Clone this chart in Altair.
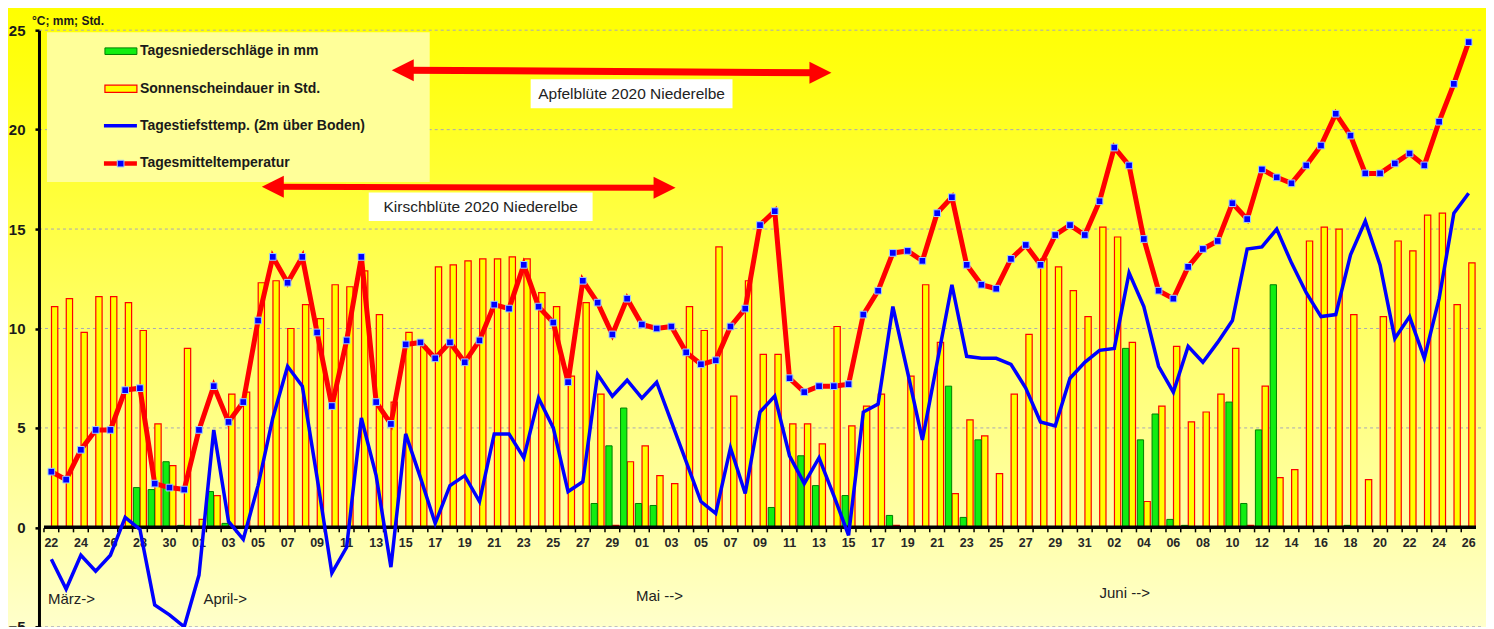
import altair as alt
import pandas as pd

# ---------------- data ----------------
day_labels = ([f"{d:02d}" for d in range(22, 32)] + [f"{d:02d}" for d in range(1, 31)]
              + [f"{d:02d}" for d in range(1, 32)] + [f"{d:02d}" for d in range(1, 27)])

tmean = [
    2.8, 2.4, 3.9, 4.9, 4.9, 6.9, 7.0, 2.2, 2.0, 1.9,
    4.9, 7.1, 5.3, 6.3, 10.4, 13.6, 12.3, 13.6, 9.8, 6.1,
    9.4, 13.6, 6.3, 5.2, 9.2, 9.3, 8.5, 9.3, 8.3, 9.4,
    11.2, 11.0, 13.2, 11.1, 10.3, 7.3, 12.4, 11.3, 9.7, 11.5,
    10.2, 10.0, 10.1, 8.8, 8.2, 8.4, 10.1, 11.0, 15.2, 15.9,
    7.5, 6.8, 7.1, 7.1, 7.2, 10.7, 11.9, 13.8, 13.9, 13.4,
    15.8, 16.6, 13.2, 12.2, 12.0, 13.5, 14.2, 13.2, 14.7, 15.2, 14.7,
    16.4, 19.1, 18.2, 14.5, 11.9, 11.5, 13.1, 14.0, 14.4, 16.3,
    15.5, 18.0, 17.6, 17.3, 18.2, 19.2, 20.8, 19.7, 17.8, 17.8,
    18.3, 18.8, 18.2, 20.4, 22.3, 24.4,
]
tmin = [
    -1.6, -3.1, -1.4, -2.2, -1.4, 0.5, -0.1, -3.9, -4.4, -5.0,
    -2.4, 4.9, 0.3, -0.6, 2.1, 5.5, 8.1, 7.1, 2.5, -2.3,
    -1.0, 5.5, 2.6, -2.0, 4.7, 2.5, 0.2, 2.1, 2.6, 1.3,
    4.7, 4.7, 3.5, 6.5, 5.0, 1.8, 2.3, 7.7, 6.6, 7.4,
    6.5, 7.3, 5.3, 3.3, 1.3, 0.7, 4.0, 1.7, 5.8, 6.6,
    3.6, 2.2, 3.5, 1.6, -0.4, 5.8, 6.2, 11.1, 7.8, 4.4,
    8.3, 12.2, 8.6, 8.5, 8.5, 8.2, 7.0, 5.3, 5.1, 7.5, 8.3,
    8.9, 9.0, 12.8, 11.1, 8.1, 6.8, 9.1, 8.3, 9.3, 10.4,
    14.0, 14.1, 15.0, 13.3, 11.8, 10.6, 10.7, 13.7, 15.4, 13.2,
    9.5, 10.6, 8.5, 11.5, 15.8, 16.8,
]
sun = [
    11.1, 11.5, 9.8, 11.6, 11.6, 11.3, 9.9, 5.2, 3.1, 9.0,
    0.4, 1.6, 6.7, 6.8, 12.3, 12.4, 10.0, 11.2, 10.5, 12.2,
    12.1, 12.9, 10.7, 6.3, 9.8, 9.1, 13.1, 13.2, 13.4, 13.5,
    13.5, 13.6, 13.5, 11.8, 11.1, 7.6, 11.3, 6.7, 0.1, 3.3,
    4.1, 2.6, 2.2, 11.1, 9.9, 14.1, 6.6, 12.4, 8.7, 8.7,
    5.2, 5.2, 4.2, 10.1, 5.1, 6.1, 6.7, 0.1, 7.6, 12.2,
    9.3, 1.7, 5.4, 4.6, 2.7, 6.7, 9.7, 13.5, 13.1, 11.9, 10.6,
    15.1, 14.6, 9.3, 1.3, 6.1, 9.1, 5.3, 5.8, 6.7, 9.0,
    0.1, 7.1, 2.5, 2.9, 14.4, 15.1, 15.0, 10.7, 2.4, 10.6,
    14.4, 13.9, 15.7, 15.8, 11.2, 13.3,
]
rain = [
    0, 0, 0, 0, 0, 0, 2.0, 1.9, 3.3, 0.1,
    0, 1.8, 0.2, 0, 0, 0, 0, 0, 0, 0,
    0, 0, 0, 0, 0, 0, 0, 0, 0, 0,
    0, 0, 0, 0, 0, 0, 0, 1.2, 4.1, 6.0,
    1.2, 1.1, 0, 0, 0, 0, 0, 0, 0, 1.0,
    0, 3.6, 2.1, 0, 1.6, 0, 0, 0.6, 0, 0,
    0, 7.1, 0.5, 4.4, 0, 0, 0, 0, 0, 0, 0,
    0, 0, 9.0, 4.4, 5.7, 0.4, 0.1, 0, 0, 6.3,
    1.2, 4.9, 12.2, 0, 0, 0, 0, 0.1, 0, 0,
    0, 0, 0, 0, 0, 0,
]
y_ticks = [-5, 0, 5, 10, 15, 20, 25]
legend_labels = ["Tagesniederschläge in mm", "Sonnenscheindauer in Std.",
                 "Tagestiefsttemp. (2m über Boden)", "Tagesmitteltemperatur"]

df = pd.DataFrame({"i": list(range(len(day_labels))), "tag": day_labels,
                   "tmean": tmean, "tmin": tmin, "sun": sun, "rain": rain})
grid_df = pd.DataFrame({"v": [v for v in y_ticks if v != 0]})
dummy = pd.DataFrame({"a": [0]})

FONT = "Liberation Sans, Arial, sans-serif"
RED = "#FF0000"
BLUE = "#0000FF"
N = len(day_labels)

xs = alt.Scale(domain=[-0.5, N - 0.5], nice=False, zero=False)
ys = alt.Scale(domain=[-5, 25], nice=False, zero=False)

x_axis = alt.Axis(labels=False, ticks=False, domain=False, grid=False, title=None)
y_axis = alt.Axis(values=y_ticks, grid=False, domainColor="black", domainWidth=3,
                  tickColor="black", tickSize=4, tickWidth=2.5, labelPadding=10,
                  labelFont=FONT, labelFontSize=15, labelFontWeight="bold",
                  labelColor="#1a1a1a", labelFlush=False, title=None, zindex=1)

X = alt.X("i:Q", scale=xs, axis=x_axis, title=None)


def Y(f):
    return alt.Y(f"{f}:Q", scale=ys, axis=y_axis, title=None)


# background gradient
bg = alt.Chart(dummy).mark_rect(
    color=alt.Gradient(gradient="linear",
                       stops=[alt.GradientStop(color="#FFFF00", offset=0),
                              alt.GradientStop(color="#FFFF10", offset=0.1),
                              alt.GradientStop(color="#FFFFCC", offset=1)],
                       x1=0, x2=0, y1=0, y2=1)
).encode(x=alt.value(-32), x2=alt.value(1448), y=alt.value(-23), y2=alt.value(600))

grid = alt.Chart(grid_df).mark_rule(color="#a8a8b8", strokeWidth=1, strokeDash=[3, 3]).encode(
    y=Y("v"))

legend_box = alt.Chart(dummy).mark_rect(color="#FFFF99").encode(
    x=alt.value(8), x2=alt.value(391), y=alt.value(2), y2=alt.value(152))

sun_bars = alt.Chart(df).mark_bar(width=6.3, xOffset=3.3, color="#FFFF00", stroke=RED,
                                  strokeWidth=1.2).encode(x=X, y=Y("sun"), y2=alt.datum(0))
rain_bars = alt.Chart(df).transform_filter("datum.rain > 0").mark_bar(
    width=6.3, xOffset=-3.4, color="#11EE11", stroke="#008000", strokeWidth=1).encode(
    x=X, y=Y("rain"), y2=alt.datum(0))

zero_line = alt.Chart(dummy).mark_rule(color="black", strokeWidth=3.5).encode(
    x=alt.datum(-0.5), x2=alt.datum(N - 0.5), y=alt.datum(0))

day_ticks = alt.Chart(df).transform_calculate(tb="datum.i - 0.5").mark_rule(
    color="black", strokeWidth=1.5).encode(
    x=alt.X("tb:Q", scale=xs, axis=x_axis, title=None), y=alt.datum(-0.05), y2=alt.datum(-0.25))

x_labels = alt.Chart(df).transform_filter("datum.i % 2 == 0").mark_text(
    baseline="middle", align="center", dy=15.5, font=FONT, fontSize=12.5, fontWeight="bold",
    color="#262626").encode(x=X, y=alt.datum(0), text="tag:N")

tmin_line = alt.Chart(df).mark_line(color=BLUE, strokeWidth=3.5).encode(x=X, y=Y("tmin"))
tmean_line = alt.Chart(df).mark_line(color=RED, strokeWidth=5).encode(x=X, y=Y("tmean"))
tmean_pts = alt.Chart(df).mark_square(size=45, fill=BLUE, stroke="#a0ccff", strokeWidth=1,
                                      filled=True, opacity=1).encode(x=X, y=Y("tmean"))

# custom legend
leg_layers = []
leg_layers.append(alt.Chart(dummy).mark_rect(color="#11EE11", stroke="#008000", strokeWidth=1).encode(
    x=alt.value(66), x2=alt.value(98), y=alt.value(17.7), y2=alt.value(24.3)))
leg_layers.append(alt.Chart(dummy).mark_rect(color="#FFFF00", stroke=RED, strokeWidth=1.2).encode(
    x=alt.value(66), x2=alt.value(98), y=alt.value(55), y2=alt.value(62.3)))
leg_layers.append(alt.Chart(dummy).mark_rule(color=BLUE, strokeWidth=3.5).encode(
    x=alt.value(65), x2=alt.value(98), y=alt.value(95.7), y2=alt.value(95.7)))
leg_layers.append(alt.Chart(dummy).mark_rule(color=RED, strokeWidth=4.5).encode(
    x=alt.value(65), x2=alt.value(98), y=alt.value(133.5), y2=alt.value(133.5)))
leg_layers.append(alt.Chart(dummy).mark_square(size=45, fill=BLUE, stroke="#a0ccff", strokeWidth=1,
                                               filled=True, opacity=1).encode(
    x=alt.value(81.7), y=alt.value(133.5)))
for lab, yy in zip(legend_labels, [20.7, 59, 96, 132.5]):
    leg_layers.append(alt.Chart(dummy).mark_text(align="left", baseline="middle", font=FONT,
                                                 fontSize=14, fontWeight="bold",
                                                 color="#1a1a1a").encode(
        x=alt.value(101), y=alt.value(yy), text=alt.value(lab)))

unit_text = alt.Chart(dummy).mark_text(align="left", baseline="middle", font=FONT, fontSize=12,
                                       fontWeight="bold", color="#1a1a1a").encode(
    x=alt.value(-7), y=alt.value(-9), text=alt.value("°C; mm; Std."))

HEAD_R = "M-1,-1L1,0L-1,1Z"
HEAD_L = "M1,-1L-1,0L1,1Z"


def arrow(x1, y1, x2, y2, w):
    shaft = alt.Chart(dummy).mark_rule(color=RED, strokeWidth=w).encode(
        x=alt.value(x1 + 14), x2=alt.value(x2 - 14), y=alt.value(y1), y2=alt.value(y2))
    hl = alt.Chart(dummy).mark_point(shape=HEAD_L, size=484, filled=True, fill=RED,
                                     opacity=1, strokeWidth=0).encode(
        x=alt.value(x1 + 11), y=alt.value(y1))
    hr = alt.Chart(dummy).mark_point(shape=HEAD_R, size=484, filled=True, fill=RED,
                                     opacity=1, strokeWidth=0).encode(
        x=alt.value(x2 - 11), y=alt.value(y2))
    return [shaft, hl, hr]


def textbox(x1, x2, y1, y2, txt):
    box = alt.Chart(dummy).mark_rect(color="white").encode(
        x=alt.value(x1), x2=alt.value(x2), y=alt.value(y1), y2=alt.value(y2))
    t = alt.Chart(dummy).mark_text(align="center", baseline="middle", font=FONT, fontSize=15.5,
                                   color="#222222").encode(
        x=alt.value((x1 + x2) / 2), y=alt.value((y1 + y2) / 2), text=alt.value(txt))
    return [box, t]


annots = (arrow(353, 40, 793, 42.7, 7) + textbox(492, 694, 49, 78, "Apfelblüte 2020 Niederelbe")
          + arrow(223, 156.7, 637, 157.7, 6) + textbox(330, 554, 162.5, 191, "Kirschblüte 2020 Niederelbe"))


def month(txt, xi, yv):
    return alt.Chart(dummy).mark_text(align="left", baseline="middle", font=FONT, fontSize=15,
                                      color="#222222").encode(
        x=alt.datum(xi), y=alt.datum(yv), text=alt.value(txt))


months = [month("März->", -0.23, -3.58), month("April->", 10.3, -3.6),
          month("Mai -->", 39.6, -3.43), month("Juni -->", 71.0, -3.28)]

chart = alt.layer(
    bg, grid, legend_box, sun_bars, rain_bars, zero_line, day_ticks, x_labels, *months,
    tmin_line, tmean_line, tmean_pts,
    *leg_layers, unit_text, *annots
).properties(
    width=1443, height=597,
    autosize=alt.AutoSizeParams(type="none"),
    padding={"left": 31, "top": 22, "right": 5, "bottom": 0},
).configure_view(stroke=None).configure(background="white")

chart.save("out.html", embed_options={"renderer": "svg", "actions": False})
